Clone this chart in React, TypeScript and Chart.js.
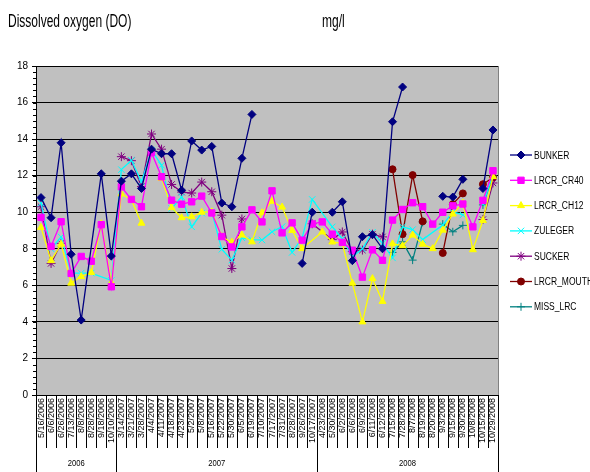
import React, { useEffect, useRef } from 'react';
import { Chart, registerables } from 'chart.js';
import { drawPoint } from 'chart.js/helpers';

Chart.register(...registerables);

const NA = NaN; // missing value, line connected across it
// null = blank, line broken

const labels2006 = ['5/16/2006', '6/6/2006', '6/26/2006', '7/13/2006', '8/8/2006', '8/28/2006', '9/18/2006', '10/10/2006'];
const labels2007 = ['3/14/2007', '3/21/2007', '3/28/2007', '4/4/2007', '4/11/2007', '4/18/2007', '4/23/2007', '5/2/2007', '5/8/2007', '5/16/2007', '5/22/2007', '5/30/2007', '6/5/2007', '6/19/2007', '7/10/2007', '7/17/2007', '7/31/2007', '8/28/2007', '9/26/2007', '10/17/2007'];
const labels2008 = ['4/23/2008', '5/30/2008', '6/2/2008', '6/6/2008', '6/9/2008', '6/11/2008', '6/12/2008', '7/15/2008', '7/28/2008', '8/7/2008', '8/19/2008', '8/20/2008', '9/3/2008', '9/15/2008', '9/30/2008', '10/8/2008', '10/15/2008', '10/29/2008'];
const yearGroups = [
  { year: '2006', count: labels2006.length },
  { year: '2007', count: labels2007.length },
  { year: '2008', count: labels2008.length },
];
const categories = [...labels2006, ...labels2007, ...labels2008];

const bunker = [10.8, 9.7, 13.8, 7.7, 4.1, NA, 12.1, 7.6,
  11.7, 12.1, 11.3, 13.45, 13.2, 13.2, 11.2, 13.9, 13.4, 13.6, 10.5, 10.3, 12.95, 15.35, null, null, null, null, 7.2, 10.0,
  null, 10.0, 10.57, 7.35, 8.66, 8.77, 8.0, 14.95, 16.85, null, null, null, 10.87, 10.83, 11.8, null, 11.3, 14.5];
const lrcrCr40 = [9.72, 8.13, 9.48, 6.65, 7.58, 7.32, 9.32, 5.92,
  11.39, 10.7, 10.3, 13.26, 11.94, 10.66, 10.44, 10.57, 10.88, 9.96, 8.67, 8.1, 9.2, 10.13, 9.47, 11.17, 8.87, 9.42, 8.47, 9.36,
  9.47, 8.8, 8.35, 7.92, 6.45, 7.94, 7.37, 9.57, 10.15, 10.52, 10.3, 9.35, 10.0, 10.35, 10.45, 9.2, 10.65, 12.27];
const lrcrCh12 = [9.17, 7.35, 8.25, 6.12, 6.48, 6.7, 9.37, 6.15,
  11.0, 10.68, 9.4, null, 11.85, 10.25, 9.7, 9.75, 10.0, 10.02, 8.66, 8.36, 8.75, 8.38, 9.97, 10.6, 10.28, 9.0, 8.01, NA,
  8.92, 8.37, 8.28, 6.12, 4.0, 6.37, 5.12, 8.27, 8.17, 8.75, 8.25, 8.01, 9.02, 9.9, 10.5, 7.95, 9.55, 11.95];
const zuleger = [10.5, 8.0, 8.65, 6.67, 6.67, 6.67, NA, 6.27,
  12.33, 12.84, 11.66, 13.4, 12.57, 10.2, 10.84, 9.2, 9.95, 10.02, 7.97, 7.38, 8.6, 8.5, 8.48, 8.93, 9.21, 7.8, 8.6, 10.7,
  NA, 9.2, 8.55, 7.56, 8.0, 8.9, 8.3, 7.5, 9.2, 9.05, 8.5, NA, 9.3, 10.02, 9.85, null, 10.45, 12.05];
const sucker = [10.3, 7.2, 8.3, null, null, null, null, null,
  13.04, 12.82, 11.4, 14.28, 13.45, 11.52, 11.1, 11.05, 11.65, 11.12, 9.84, 6.92, 9.63, null, null, null, null, null, null, 9.37,
  NA, 8.5, 8.92, 7.85, 7.93, 8.8, 8.65, null, null, null, null, null, null, null, null, null, 9.6, 11.6];
const lrcrMouth = [null, null, null, null, null, null, null, null,
  null, null, null, null, null, null, null, null, null, null, null, null, null, null, null, null, null, null, null, null,
  null, null, null, null, null, null, null, 12.35, 8.8, 12.03, 9.5, null, 7.77, 10.44, 11.03, null, 11.53, 11.9];
const missLrc = [null, null, null, null, null, null, null, null,
  null, null, null, null, null, null, null, null, null, null, null, null, null, null, null, null, null, null, null, null,
  null, null, null, null, null, null, null, 7.8, 8.38, 7.38, 9.45, null, 9.35, 8.93, 9.28, null, 10.4, 12.0];

const yTicks = [0, 2, 4, 6, 8, 10, 12, 14, 16, 18];

const FONT = '"Liberation Sans", Arial, sans-serif';

const seriesDefs = [
  { label: 'BUNKER', data: bunker, color: '#000080', style: 'rectRot', radius: 4 },
  { label: 'LRCR_CR40', data: lrcrCr40, color: '#FF00FF', style: 'rect', radius: 4.5 },
  { label: 'LRCR_CH12', data: lrcrCh12, color: '#FFFF00', style: 'triangle', radius: 4 },
  { label: 'ZULEGER', data: zuleger, color: '#00FFFF', style: 'crossRot', radius: 4.5 },
  { label: 'SUCKER', data: sucker, color: '#800080', style: 'star', radius: 4.5 },
  { label: 'LRCR_MOUTH', data: lrcrMouth, color: '#800000', style: 'circle', radius: 3.5 },
  { label: 'MISS_LRC', data: missLrc, color: '#008080', style: 'cross', radius: 4 },
];

function scaledText(ctx: any, text: string, x: number, y: number, sx: number, sy: number) {
  ctx.save();
  ctx.translate(x, y);
  ctx.scale(sx, sy);
  ctx.fillText(text, 0, 0);
  ctx.restore();
}

const decorPlugin = {
  id: 'decor',
  beforeDraw(chart: any) {
    const { ctx, chartArea: a } = chart;
    ctx.save();
    ctx.fillStyle = '#fff';
    ctx.fillRect(0, 0, chart.width, chart.height);
    ctx.fillStyle = '#C0C0C0';
    ctx.fillRect(a.left, a.top, a.right - a.left, a.bottom - a.top);
    ctx.restore();
  },
  afterDraw(chart: any) {
    const { ctx, chartArea: a } = chart;
    const xs = chart.scales.x;
    const ys = chart.scales.y;
    ctx.save();
    // right border
    ctx.strokeStyle = '#808080';
    ctx.lineWidth = 1;
    ctx.beginPath();
    ctx.moveTo(a.right + 0.5, a.top);
    ctx.lineTo(a.right + 0.5, a.bottom);
    ctx.stroke();
    // minor y ticks
    ctx.strokeStyle = '#000';
    ctx.beginPath();
    for (let k = 0; k <= 18 * 3; k++) {
      const y = Math.round(ys.getPixelForValue(k / 3)) + 0.5;
      ctx.moveTo(a.left - 3, y);
      ctx.lineTo(a.left, y);
    }
    ctx.stroke();
    // category separators
    const w = xs.getPixelForValue(1) - xs.getPixelForValue(0);
    ctx.beginPath();
    for (let i = 0; i <= categories.length; i++) {
      const x = Math.round(xs.getPixelForValue(i) - w / 2) + 0.5;
      ctx.moveTo(x, a.bottom);
      ctx.lineTo(x, 448);
    }
    ctx.stroke();
    // year groups
    let start = 0;
    ctx.font = '9px ' + FONT;
    ctx.fillStyle = '#000';
    ctx.textAlign = 'center';
    ctx.textBaseline = 'middle';
    ctx.beginPath();
    const x0 = Math.round(xs.getPixelForValue(0) - w / 2) + 0.5;
    ctx.moveTo(x0, a.bottom);
    ctx.lineTo(x0, chart.height);
    yearGroups.forEach((g) => {
      const end = start + g.count;
      const xl = xs.getPixelForValue(start) - w / 2;
      const xr = xs.getPixelForValue(end - 1) + w / 2;
      const xe = Math.round(xr) + 0.5;
      ctx.moveTo(xe, a.bottom);
      ctx.lineTo(xe, chart.height);
      scaledText(ctx, g.year, (xl + xr) / 2, 463, 0.85, 1.1);
      start = end;
    });
    ctx.stroke();
    // titles
    ctx.textAlign = 'left';
    ctx.textBaseline = 'alphabetic';
    ctx.font = '15px ' + FONT;
    scaledText(ctx, 'Dissolved oxygen (DO)', 8, 27, 0.8, 1.25);
    scaledText(ctx, 'mg/l', 322, 27, 0.8, 1.25);
    // legend
    ctx.font = '10px ' + FONT;
    ctx.textBaseline = 'middle';
    chart.data.datasets.forEach((ds: any, i: number) => {
      const y = 155 + i * 25.3;
      ctx.strokeStyle = ds.borderColor;
      ctx.lineWidth = 1.3;
      ctx.beginPath();
      ctx.moveTo(510, y);
      ctx.lineTo(532, y);
      ctx.stroke();
      ctx.fillStyle = ds.pointBackgroundColor;
      ctx.strokeStyle = ds.pointBorderColor;
      ctx.lineWidth = 1;
      drawPoint(ctx, { pointStyle: ds.pointStyle, radius: ds.pointRadius, rotation: 0, borderWidth: 1 }, 521, y);
      ctx.fillStyle = '#000';
      scaledText(ctx, ds.label, 534, y + 0.5, 0.85, 1.1);
    });
    ctx.restore();
  },
};

export default function App() {
  const ref = useRef<HTMLCanvasElement>(null);
  useEffect(() => {
    const datasets = seriesDefs.map((s) => ({
      label: s.label,
      data: s.data,
      borderColor: s.color,
      backgroundColor: s.color,
      pointBackgroundColor: s.color,
      pointBorderColor: s.color,
      pointStyle: s.style,
      pointRadius: s.radius,
      pointBorderWidth: 1,
      borderWidth: 1.3,
      tension: 0,
      spanGaps: true,
      segment: {
        borderColor: (ctx: any) =>
          s.data[ctx.p0DataIndex] === null || s.data[ctx.p1DataIndex] === null ? 'rgba(0,0,0,0)' : undefined,
      },
    }));
    const chart = new Chart(ref.current as HTMLCanvasElement, {
      type: 'line',
      data: { labels: categories, datasets },
      options: {
        responsive: false,
        animation: false,
        devicePixelRatio: 1,
        layout: { padding: { top: 66, right: 92, left: 0, bottom: 0 } },
        plugins: { legend: { display: false }, tooltip: { enabled: false }, title: { display: false } },
        scales: {
          x: {
            type: 'category',
            offset: true,
            grid: { display: false, drawTicks: false },
            border: { display: true, color: '#000', width: 1 },
            ticks: {
              autoSkip: false,
              maxRotation: 90,
              minRotation: 90,
              padding: 3,
              color: '#000',
              font: { family: FONT, size: 9 },
            },
            afterFit: (s: any) => {
              s.height = 77;
            },
          },
          y: {
            min: 0,
            max: 18,
            afterBuildTicks: (s: any) => {
              s.ticks = yTicks.map((v) => ({ value: v }));
            },
            grid: { color: '#000', lineWidth: 1, drawTicks: true, tickLength: 4 },
            border: { display: true, color: '#000', width: 1 },
            ticks: {
              padding: 4,
              color: '#000',
              font: { family: FONT, size: 10 },
            },
            afterFit: (s: any) => {
              s.width = 36;
            },
          },
        },
      },
      plugins: [decorPlugin],
    } as any);
    return () => chart.destroy();
  }, []);
  return (
    <div style={{ position: 'absolute', left: 0, top: 0, width: 590, height: 472 }}>
      <canvas ref={ref} width={590} height={472} style={{ display: 'block', width: 590, height: 472 }} />
    </div>
  );
}
